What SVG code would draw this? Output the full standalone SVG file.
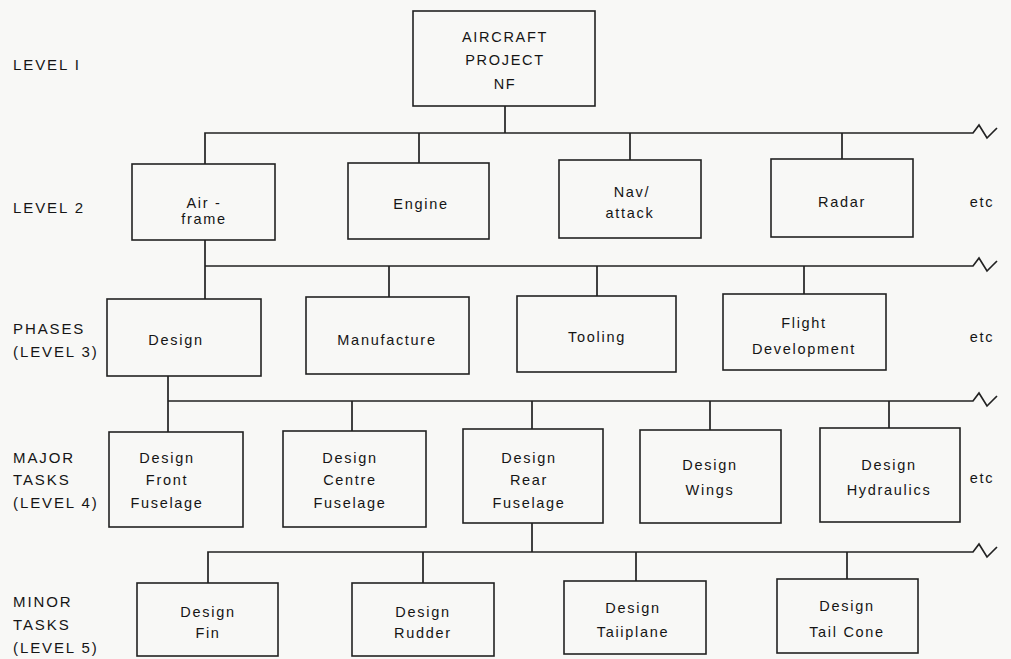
<svg xmlns="http://www.w3.org/2000/svg" width="1011" height="659" viewBox="0 0 1011 659">
<style>
.bg{fill:#f8f8f6}
.box{fill:none;stroke:#222;stroke-width:1.6}
.ln{fill:none;stroke:#222;stroke-width:1.7}
text{font-family:"Liberation Sans",Arial,sans-serif;font-size:14.5px;fill:#151515;letter-spacing:1.7px}
.c{text-anchor:middle}
.lab{font-size:15px;letter-spacing:1.9px}
</style>
<rect class="bg" x="0" y="0" width="1011" height="659"/>
<g id="labels">
<text class="lab" x="13" y="70">LEVEL I</text>
<text class="lab" x="13" y="213">LEVEL 2</text>
<text class="lab" x="13" y="334">PHASES</text>
<text class="lab" x="13" y="357">(LEVEL 3)</text>
<text class="lab" x="13" y="463">MAJOR</text>
<text class="lab" x="13" y="485">TASKS</text>
<text class="lab" x="13" y="508">(LEVEL 4)</text>
<text class="lab" x="13" y="607">MINOR</text>
<text class="lab" x="13" y="630">TASKS</text>
<text class="lab" x="13" y="653">(LEVEL 5)</text>
<text x="982" y="207" class="c">etc</text>
<text x="982" y="342" class="c">etc</text>
<text x="982" y="483" class="c">etc</text>
</g>
<g id="connectors">
<path class="ln" d="M505,106V133M205,164V133H973L979,125L987,138L997,128M419,163V133M630,160V133M842,159V133"/>
<path class="ln" d="M205,240V266M205,299V266H973L979,258L987,271L997,261M389,297V266M597,296V266M804,294V266"/>
<path class="ln" d="M168,376V401M168,432V401H973L979,393L987,406L997,396M352,431V401M532,429V401M710,430V401M889,428V401"/>
<path class="ln" d="M532,523V552M208,583V552H973L979,544L987,557L997,547M423,583V552M636,581V552M847,579V552"/>
</g>
<g id="n-aircraft"><rect class="box" x="413" y="11" width="182" height="95"/>
<text class="c" x="505" y="42">AIRCRAFT</text><text class="c" x="505" y="65">PROJECT</text><text class="c" x="505" y="89">NF</text></g>
<g id="n-airframe"><rect class="box" x="132" y="164" width="143" height="76"/>
<text class="c" x="204" y="208">Air -</text><text class="c" x="204" y="224">frame</text></g>
<g id="n-engine"><rect class="box" x="348" y="163" width="141" height="76"/>
<text class="c" x="421" y="209">Engine</text></g>
<g id="n-navattack"><rect class="box" x="559" y="160" width="142" height="78"/>
<text class="c" x="632" y="197">Nav/</text><text class="c" x="630" y="218">attack</text></g>
<g id="n-radar"><rect class="box" x="771" y="159" width="142" height="78"/>
<text class="c" x="842" y="207">Radar</text></g>
<g id="n-design"><rect class="box" x="107" y="299" width="154" height="77"/>
<text class="c" x="176" y="345">Design</text></g>
<g id="n-manufacture"><rect class="box" x="306" y="297" width="163" height="77"/>
<text class="c" x="387" y="345">Manufacture</text></g>
<g id="n-tooling"><rect class="box" x="517" y="296" width="159" height="76"/>
<text class="c" x="597" y="342">Tooling</text></g>
<g id="n-flight"><rect class="box" x="723" y="294" width="163" height="76"/>
<text class="c" x="804" y="328">Flight</text><text class="c" x="804" y="354">Development</text></g>
<g id="n-front"><rect class="box" x="109" y="432" width="134" height="95"/>
<text class="c" x="167" y="463">Design</text><text class="c" x="167" y="485">Front</text><text class="c" x="167" y="508">Fuselage</text></g>
<g id="n-centre"><rect class="box" x="283" y="431" width="143" height="96"/>
<text class="c" x="350" y="463">Design</text><text class="c" x="350" y="485">Centre</text><text class="c" x="350" y="508">Fuselage</text></g>
<g id="n-rear"><rect class="box" x="463" y="429" width="140" height="94"/>
<text class="c" x="529" y="463">Design</text><text class="c" x="529" y="485">Rear</text><text class="c" x="529" y="508">Fuselage</text></g>
<g id="n-wings"><rect class="box" x="640" y="430" width="141" height="93"/>
<text class="c" x="710" y="470">Design</text><text class="c" x="710" y="495">Wings</text></g>
<g id="n-hydraulics"><rect class="box" x="820" y="428" width="140" height="94"/>
<text class="c" x="889" y="470">Design</text><text class="c" x="889" y="495">Hydraulics</text></g>
<g id="n-fin"><rect class="box" x="137" y="583" width="141" height="73"/>
<text class="c" x="208" y="617">Design</text><text class="c" x="208" y="638">Fin</text></g>
<g id="n-rudder"><rect class="box" x="352" y="583" width="142" height="73"/>
<text class="c" x="423" y="617">Design</text><text class="c" x="423" y="638">Rudder</text></g>
<g id="n-tailplane"><rect class="box" x="564" y="581" width="142" height="73"/>
<text class="c" x="633" y="613">Design</text><text class="c" x="633" y="637">Taiiplane</text></g>
<g id="n-tailcone"><rect class="box" x="777" y="579" width="141" height="74"/>
<text class="c" x="847" y="611">Design</text><text class="c" x="847" y="637">Tail Cone</text></g>
</svg>
